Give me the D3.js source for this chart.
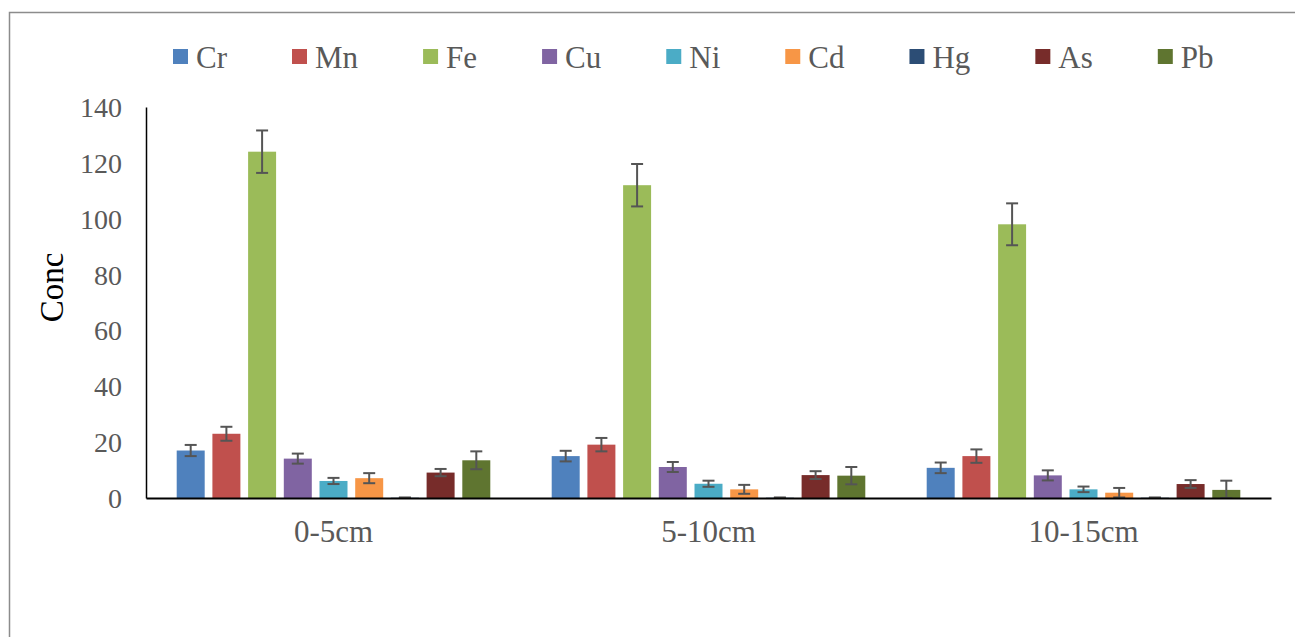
<!DOCTYPE html>
<html>
<head>
<meta charset="utf-8">
<script src="https://cdn.jsdelivr.net/npm/d3@7"></script>
<style>
  html, body { margin: 0; padding: 0; background: #fff; }
  svg { display: block; }
</style>
</head>
<body>
<svg id="chart" width="1295" height="637"></svg>
<script>
const categories = ["0-5cm", "5-10cm", "10-15cm"];
const seriesNames = ["Cr", "Mn", "Fe", "Cu", "Ni", "Cd", "Hg", "As", "Pb"];
const seriesColors = ["#4F81BD", "#C0504D", "#9BBB59", "#8064A2", "#4BACC6", "#F79646", "#2C4D75", "#772C2A", "#5F7530"];

const crValues = [17.0, 15.0, 10.8];
const mnValues = [23.0, 19.1, 15.0];
const feValues = [124.0, 112.0, 98.0];
const cuValues = [14.1, 11.1, 8.1];
const niValues = [6.1, 5.1, 3.1];
const cdValues = [7.1, 3.1, 1.9];
const hgValues = [0.1, 0.1, 0.1];
const asValues = [9.1, 8.2, 5.0];
const pbValues = [13.5, 8.0, 2.9];

const crErr = [2.0, 1.9, 1.9];
const mnErr = [2.5, 2.4, 2.4];
const feErr = [7.6, 7.6, 7.5];
const cuErr = [1.8, 1.8, 1.8];
const niErr = [1.1, 1.1, 1.0];
const cdErr = [1.8, 1.6, 1.7];
const hgErr = [0.1, 0.1, 0.1];
const asErr = [1.3, 1.4, 1.4];
const pbErr = [3.2, 3.1, 3.3];

const yTicks = [0, 20, 40, 60, 80, 100, 120, 140];
const yLabel = "Conc";

const allValues = [crValues, mnValues, feValues, cuValues, niValues, cdValues, hgValues, asValues, pbValues];
const allErrs = [crErr, mnErr, feErr, cuErr, niErr, cdErr, hgErr, asErr, pbErr];

const table = [];
categories.forEach((c, ci) => {
  seriesNames.forEach((s, si) => {
    table.push({ cat: c, series: s, color: seriesColors[si], value: allValues[si][ci], err: allErrs[si][ci] });
  });
});

const svg = d3.select("#chart");
const FONT = "'Liberation Serif', 'Times New Roman', serif";
const GREY = "#595959";

// outer frame
svg.append("rect")
  .attr("x", 9.5).attr("y", 12.5)
  .attr("width", 1300).attr("height", 700)
  .attr("fill", "none").attr("stroke", "#8c8c8c").attr("stroke-width", 1.5);

const plot = { left: 146, right: 1271, top: 107, bottom: 498 };

const x0 = d3.scaleBand().domain(categories).range([plot.left, plot.right]).paddingInner(0).paddingOuter(0);
const x1 = d3.scaleBand().domain(seriesNames).range([0, x0.bandwidth()]).paddingInner(0.216).paddingOuter(0.86);
const y = d3.scaleLinear().domain([0, 140]).range([plot.bottom, plot.top]);

// bars
const g = svg.append("g");
g.selectAll("rect.bar").data(table).enter().append("rect")
  .attr("class", "bar")
  .attr("x", d => x0(d.cat) + x1(d.series))
  .attr("y", d => y(d.value))
  .attr("width", x1.bandwidth())
  .attr("height", d => y(0) - y(d.value))
  .attr("fill", d => d.color);

// error bars
const capW = 12;
const eb = g.selectAll("g.err").data(table).enter().append("g").attr("class", "err")
  .attr("stroke", "#555555").attr("stroke-width", 2);
eb.append("line")
  .attr("x1", d => x0(d.cat) + x1(d.series) + x1.bandwidth() / 2)
  .attr("x2", d => x0(d.cat) + x1(d.series) + x1.bandwidth() / 2)
  .attr("y1", d => y(d.value + d.err))
  .attr("y2", d => y(Math.max(0, d.value - d.err)));
eb.append("line")
  .attr("x1", d => x0(d.cat) + x1(d.series) + x1.bandwidth() / 2 - capW / 2)
  .attr("x2", d => x0(d.cat) + x1(d.series) + x1.bandwidth() / 2 + capW / 2)
  .attr("y1", d => y(d.value + d.err))
  .attr("y2", d => y(d.value + d.err));
eb.append("line")
  .attr("x1", d => x0(d.cat) + x1(d.series) + x1.bandwidth() / 2 - capW / 2)
  .attr("x2", d => x0(d.cat) + x1(d.series) + x1.bandwidth() / 2 + capW / 2)
  .attr("y1", d => y(Math.max(0, d.value - d.err)))
  .attr("y2", d => y(Math.max(0, d.value - d.err)));

// y axis
const yAxis = d3.axisLeft(y).tickValues(yTicks).tickSize(0).tickPadding(24).tickFormat(d3.format("d"));
const yg = svg.append("g").attr("transform", `translate(${plot.left},0)`).call(yAxis);
yg.select(".domain").attr("stroke", "#000").attr("stroke-width", 1.5);
yg.selectAll("text").attr("font-family", FONT).attr("font-size", 28).attr("fill", GREY).attr("dy", "0.34em");

// x axis
const xAxis = d3.axisBottom(x0).tickSize(0).tickPadding(22);
const xg = svg.append("g").attr("transform", `translate(0,${plot.bottom})`).call(xAxis);
xg.select(".domain").attr("stroke", "#000").attr("stroke-width", 2);
xg.selectAll("text").attr("font-family", FONT).attr("font-size", 31).attr("fill", GREY);

// y label
svg.append("text")
  .attr("transform", `translate(63,${(plot.top + plot.bottom) / 2 - 15}) rotate(-90)`)
  .attr("text-anchor", "middle")
  .attr("font-family", FONT).attr("font-size", 33).attr("fill", "#000")
  .text(yLabel);

// legend
const legend = svg.append("g");
const swatch = 15, gapT = 8, spacing = 65;
let lx = 173;
seriesNames.forEach((s, i) => {
  const item = legend.append("g");
  item.append("rect").attr("x", lx).attr("y", 49).attr("width", swatch).attr("height", swatch).attr("fill", seriesColors[i]);
  const t = item.append("text").attr("x", lx + swatch + gapT).attr("y", 67.5)
    .attr("font-family", FONT).attr("font-size", 31).attr("fill", GREY).text(s);
  lx += swatch + gapT + t.node().getComputedTextLength() + spacing;
});
</script>
</body>
</html>
